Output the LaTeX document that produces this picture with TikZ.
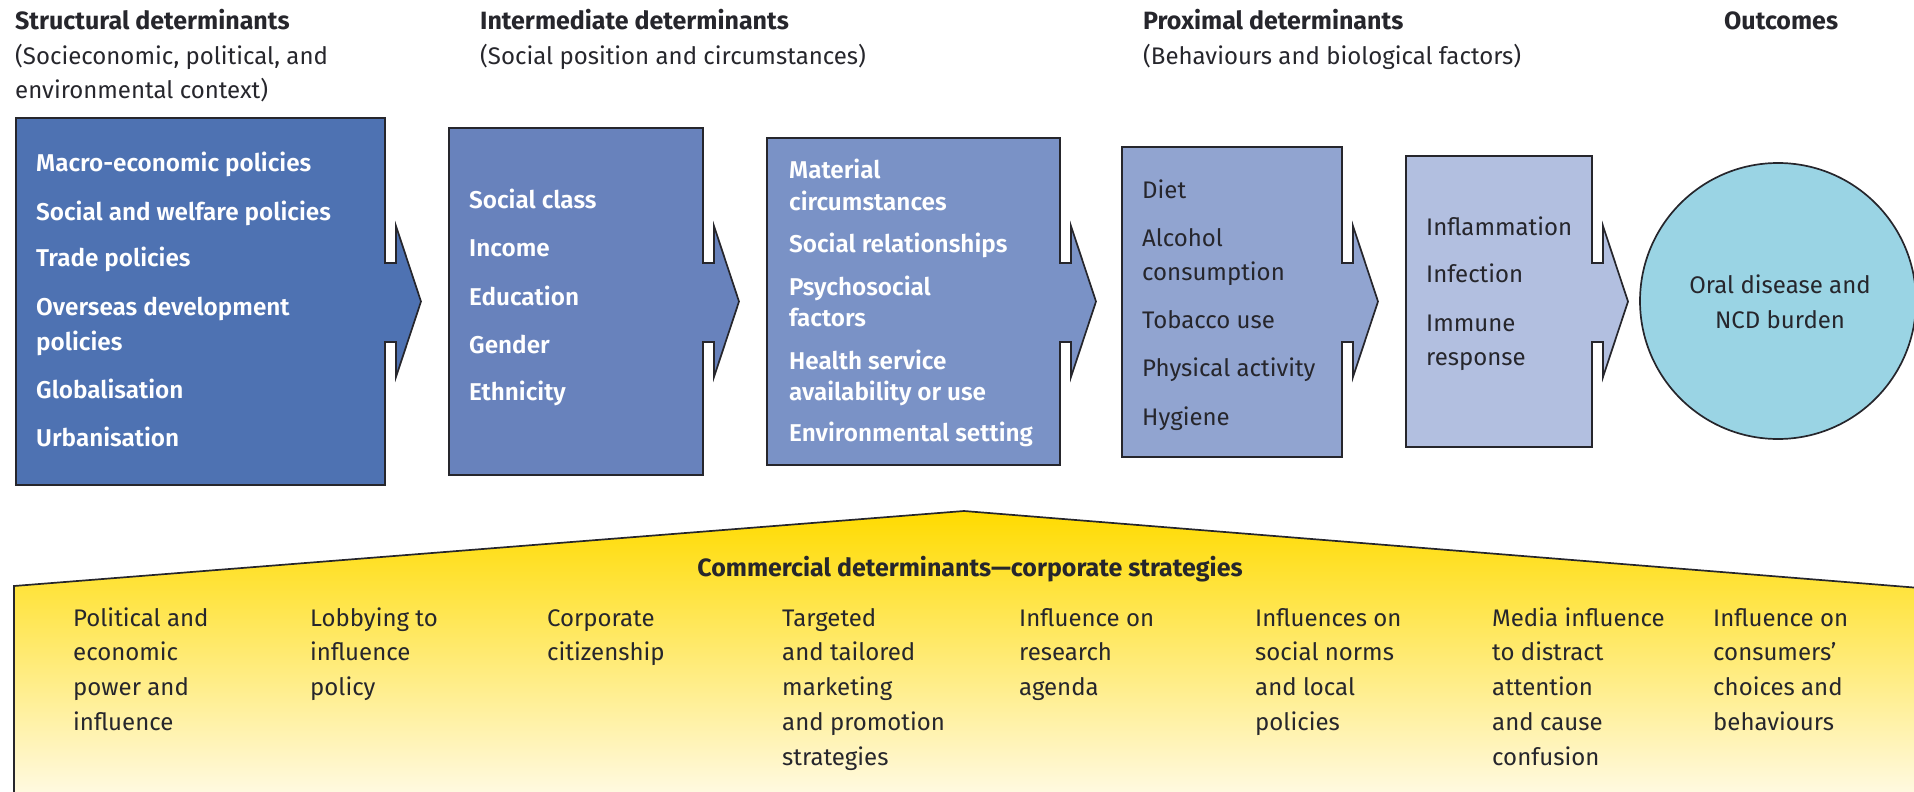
\documentclass[tikz,border=0pt]{standalone}
\usepackage{fontspec}
\setmainfont{Fira Sans}
\newfontfamily\medfont{Fira Sans SemiBold}
\definecolor{cA}{RGB}{78,114,178}
\definecolor{cB}{RGB}{104,130,188}
\definecolor{cC}{RGB}{122,146,198}
\definecolor{cD}{RGB}{145,164,208}
\definecolor{cE}{RGB}{178,191,224}
\definecolor{cO}{RGB}{154,212,228}
\definecolor{yTop}{RGB}{255,219,0}
\definecolor{yBot}{RGB}{255,250,230}
\definecolor{edge}{RGB}{38,38,44}
\definecolor{ink}{RGB}{38,38,44}
\tikzset{
  boxline/.style={draw=edge, line width=1.7pt, line join=miter},
  whitetxt/.style={anchor=base west, inner sep=0pt, text=white, font=\medfont\fontsize{24.3}{28}\selectfont},
  darktxt/.style={anchor=base west, inner sep=0pt, text=ink, font=\fontsize{24}{28}\selectfont},
  headtxt/.style={anchor=base west, inner sep=0pt, text=ink, font=\bfseries\fontsize{25}{28}\selectfont},
  subtxt/.style={anchor=base west, inner sep=0pt, text=ink, font=\fontsize{24}{28}\selectfont},
  lowtxt/.style={anchor=base west, inner sep=0pt, text=ink, font=\fontsize{24}{28}\selectfont},
}
\newcommand{\detbox}[5]{%
  \path[boxline, fill=#1] (#2,#3) -- (#4,#3) -- (#4,263) -- ({#4+11},263) -- ({#4+11},226)
    -- ({#4+36},301.5) -- ({#4+11},377) -- ({#4+11},342) -- (#4,342) -- (#4,#5) -- (#2,#5) -- cycle;}
\begin{document}
\begin{tikzpicture}[x=1pt,y=-1pt]
\useasboundingbox (0,0) rectangle (1914,792);
% headers
\node[headtxt] (h1) at (15,30) {Structural determinants};
\node[subtxt] (h1a) at (15,64) {(Socieconomic, political, and};
\node[subtxt] (h1b) at (15,98) {environmental context)};
\node[headtxt] (h2) at (480,30) {Intermediate determinants};
\node[subtxt] (h2a) at (480,64) {(Social position and circumstances)};
\node[headtxt] (h3) at (1143,30) {Proximal determinants};
\node[subtxt] (h3a) at (1143,64) {(Behaviours and biological factors)};
\node[headtxt] (h4) at (1724,30) {Outcomes};
% boxes
\detbox{cA}{16}{118}{385}{485}
\detbox{cB}{449}{128}{703}{475}
\detbox{cC}{767}{138}{1060}{465}
\detbox{cD}{1122}{147}{1342}{457}
\detbox{cE}{1406}{156}{1592}{447}
\node[circle, draw=edge, line width=1.7pt, fill=cO, minimum size=276pt, inner sep=0pt] (out) at (1778,301) {};
% box texts
\foreach \yy/\tt [count=\i] in {171/Macro-economic policies, 220/Social and welfare policies, 266/Trade policies, 315/Overseas development, 350/policies, 398/Globalisation, 446/Urbanisation}
  \node[whitetxt] (s\i) at (36,\yy) {\tt};
\foreach \yy/\tt [count=\i] in {208/Social class, 256/Income, 305/Education, 353/Gender, 400/Ethnicity}
  \node[whitetxt] (m\i) at (469,\yy) {\tt};
\foreach \yy/\tt [count=\i] in {178/Material, 210/circumstances, 252/Social relationships, 295/Psychosocial, 326/factors, 369/Health service, 400/availability or use, 441/Environmental setting}
  \node[whitetxt] (n\i) at (789,\yy) {\tt};
\foreach \yy/\tt [count=\i] in {198/Diet, 246/Alcohol, 280/consumption, 328/Tobacco use, 376/Physical activity, 425/Hygiene}
  \node[darktxt] (p\i) at (1142,\yy) {\tt};
\foreach \yy/\tt [count=\i] in {235/Inflammation, 282/Infection, 331/Immune, 365/response}
  \node[darktxt] (q\i) at (1426,\yy) {\tt};
\node[darktxt, anchor=base] (o1) at (1780,293) {Oral disease and};
\node[darktxt, anchor=base] (o2) at (1780,328) {NCD burden};
% commercial determinants
\path[boxline, top color=yTop, bottom color=yBot] (14,800) -- (14,586) -- (964,511) -- (1920,588) -- (1920,800) -- cycle;
\node[headtxt, anchor=base] (cdt) at (970,576) {Commercial determinants—corporate strategies};
\foreach \xx/\lst [count=\c] in {73/{Political and,economic,power and,influence},
    310/{Lobbying to,influence,policy},
    547/{Corporate,citizenship},
    782/{Targeted,and tailored,marketing,and promotion,strategies},
    1019/{Influence on,research,agenda},
    1255/{Influences on,social norms,and local,policies},
    1492/{Media influence,to distract,attention,and cause,confusion},
    1713/{Influence on,consumers’,choices and,behaviours}}
  \foreach \tt [count=\r] in \lst
    \node[lowtxt] (c\c-\r) at (\xx,{626+34.8*(\r-1)}) {\tt};
\end{tikzpicture}
\end{document}
